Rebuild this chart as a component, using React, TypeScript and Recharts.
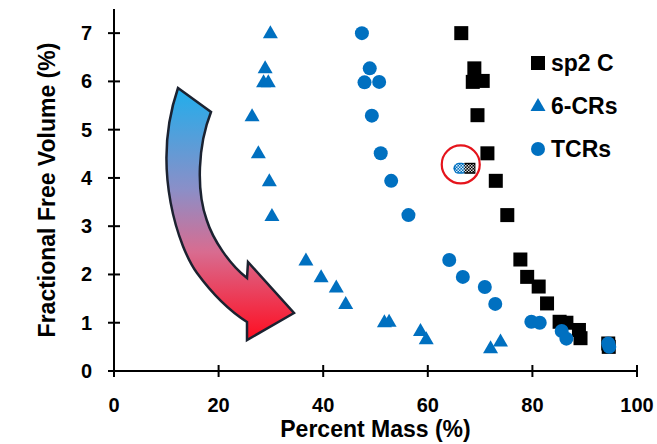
import {
  ScatterChart,
  Scatter,
  XAxis,
  YAxis,
  Legend,
  Label,
  ReferenceDot,
  Customized,
} from "recharts";

// values
const sp2X = [66.4, 68.9, 68.6, 70.5, 69.5, 71.4, 73.0, 75.2, 77.7, 79.0, 81.2, 82.8, 85.2, 86.5, 88.9, 89.2, 94.5, 94.6];
const sp2Y = [7.0, 6.27, 5.99, 6.01, 5.3, 4.51, 3.94, 3.23, 2.31, 1.95, 1.75, 1.4, 1.02, 1.0, 0.85, 0.68, 0.57, 0.5];

const crX = [29.9, 28.9, 28.6, 29.5, 26.4, 27.6, 29.7, 30.2, 36.7, 39.6, 42.5, 44.3, 51.7, 52.6, 58.6, 59.7, 72.0, 73.9];
const crY = [7.0, 6.27, 5.98, 5.98, 5.28, 4.51, 3.93, 3.21, 2.29, 1.94, 1.73, 1.39, 1.01, 1.02, 0.83, 0.66, 0.47, 0.61];

const tcrX = [47.4, 48.9, 47.9, 50.7, 49.3, 51.0, 53.0, 56.3, 64.1, 66.7, 70.9, 72.9, 79.8, 81.4, 85.6, 86.5, 94.5, 94.7];
const tcrY = [7.0, 6.27, 5.98, 5.99, 5.29, 4.51, 3.94, 3.23, 2.3, 1.95, 1.74, 1.39, 1.02, 1.0, 0.83, 0.67, 0.57, 0.5];

const markedX = [67.0];
const markedY = [4.2];
const ringX = 66.3;
const ringY = 4.28;

const xTicks = [0, 20, 40, 60, 80, 100];
const yTicks = [0, 1, 2, 3, 4, 5, 6, 7];
const legendOrder = ["sp2 C", "6-CRs", "TCRs"];

const BLUE = "#0070C0";
const FONT = "'Liberation Sans', Arial, sans-serif";

const toPoints = (xs: number[], ys: number[]) => xs.map((x, i) => ({ x, y: ys[i] }));

const SquareDot = ({ cx, cy }: any) => (
  <rect x={cx - 7} y={cy - 7} width={14} height={14} fill="#000" />
);

const TriangleDot = ({ cx, cy }: any) => (
  <path d={`M${cx},${cy - 8} L${cx + 7.5},${cy + 5} L${cx - 7.5},${cy + 5} Z`} fill={BLUE} />
);

const CircleDot = ({ cx, cy }: any) => <circle cx={cx} cy={cy} r={7} fill={BLUE} />;

// merged circle + square marker with a checker fill
const CheckerDot = ({ cx, cy }: any) => (
  <g>
    <defs>
      <pattern id="checker" width={3} height={3} patternUnits="userSpaceOnUse">
        <rect width={1.5} height={1.5} fill="#fff" />
        <rect x={1.5} y={1.5} width={1.5} height={1.5} fill="#fff" />
      </pattern>
    </defs>
    <rect x={cx - 11} y={cy - 5.5} width={14} height={11} rx={5.5} fill={BLUE} />
    <rect x={cx} y={cy - 5.5} width={11} height={11} fill="#000" />
    <rect x={cx - 9} y={cy - 4} width={19} height={8} fill="url(#checker)" opacity={0.85} />
  </g>
);

const XTick = ({ x, y, payload }: any) => (
  <g>
    <line x1={x} x2={x} y1={y - 6} y2={y + 6} stroke="#000" strokeWidth={2} />
    <text x={x} y={y + 41} textAnchor="middle" fontSize={20} fontWeight="bold" fontFamily={FONT} fill="#000">
      {payload.value}
    </text>
  </g>
);

const YTick = ({ x, y, payload }: any) => (
  <g>
    <line x1={x - 6} x2={x + 6} y1={y} y2={y} stroke="#000" strokeWidth={2} />
    <text x={x - 22} y={y + 7} textAnchor="end" fontSize={20} fontWeight="bold" fontFamily={FONT} fill="#000">
      {payload.value}
    </text>
  </g>
);

const XTitle = ({ viewBox }: any) => (
  <text
    x={viewBox.x + viewBox.width / 2}
    y={viewBox.y + 66}
    textAnchor="middle"
    fontSize={23}
    fontWeight="bold"
    fontFamily={FONT}
    fill="#000"
  >
    Percent Mass (%)
  </text>
);

const YTitle = ({ viewBox }: any) => {
  const tx = viewBox.x + 55;
  const ty = viewBox.y + viewBox.height / 2;
  return (
    <text
      x={tx}
      y={ty}
      transform={`rotate(-90, ${tx}, ${ty})`}
      textAnchor="middle"
      fontSize={23}
      fontWeight="bold"
      fontFamily={FONT}
      fill="#000"
    >
      Fractional Free Volume (%)
    </text>
  );
};

const legendIcons: Record<string, any> = {
  "sp2 C": (cx: number, cy: number) => <rect x={cx - 7} y={cy - 7} width={14} height={14} fill="#000" />,
  "6-CRs": (cx: number, cy: number) => (
    <path d={`M${cx},${cy - 8} L${cx + 7.5},${cy + 5} L${cx - 7.5},${cy + 5} Z`} fill={BLUE} />
  ),
  TCRs: (cx: number, cy: number) => <circle cx={cx} cy={cy} r={7} fill={BLUE} />,
};

const LegendBox = ({ payload }: any) => {
  const names = (payload || []).map((p: any) => p.value);
  const items = legendOrder.filter((n) => names.includes(n));
  return (
    <svg width={130} height={130}>
      {items.map((name: string, i: number) => {
        const cy = 18 + i * 43;
        return (
          <g key={name}>
            {legendIcons[name](13, cy)}
            <text x={26} y={cy + 8} fontSize={23} fontWeight="bold" fontFamily={FONT} fill="#000">
              {name}
            </text>
          </g>
        );
      })}
    </svg>
  );
};

const CurvedArrow = () => (
  <g>
    <defs>
      <linearGradient id="arrowFill" x1="0" y1="0" x2="0" y2="1">
        <stop offset="0%" stopColor="#20AEEC" />
        <stop offset="40%" stopColor="#8A8FC8" />
        <stop offset="65%" stopColor="#D86C90" />
        <stop offset="100%" stopColor="#FF0D20" />
      </linearGradient>
    </defs>
    <path
      d="M178,88 L211,112 C198,145 196,190 206.7,220 C213,240 230,265 247,278 L248,262 L294,313 L247,340 L247,322 C225,308 208,288 197,273 C180,250 150,170 178,88 Z"
      fill="url(#arrowFill)"
      stroke="#1B2230"
      strokeWidth={2.5}
      strokeLinejoin="miter"
    />
  </g>
);

export default function App() {
  return (
    <div style={{ position: "absolute", left: 0, top: 0, background: "#fff" }}>
      <ScatterChart width={657} height={444} margin={{ top: 9, right: 20, left: 0, bottom: 0 }}>
        <Customized component={<CurvedArrow />} />
        <XAxis
          type="number"
          dataKey="x"
          domain={[0, 100]}
          ticks={xTicks}
          interval={0}
          height={73}
          tickSize={0}
          tickMargin={0}
          tickLine={false}
          axisLine={{ stroke: "#000", strokeWidth: 2 }}
          tick={(p: any) => <XTick {...p} />}
        >
          <Label content={(p: any) => <XTitle {...p} />} />
        </XAxis>
        <YAxis
          type="number"
          dataKey="y"
          domain={[0, 7.5]}
          ticks={yTicks}
          interval={0}
          width={114}
          tickSize={0}
          tickMargin={0}
          tickLine={false}
          axisLine={{ stroke: "#000", strokeWidth: 2 }}
          tick={(p: any) => <YTick {...p} />}
        >
          <Label content={(p: any) => <YTitle {...p} />} />
        </YAxis>
        <Scatter name="sp2 C" data={toPoints(sp2X, sp2Y)} fill="#000" shape={SquareDot} isAnimationActive={false} />
        <Scatter name="6-CRs" data={toPoints(crX, crY)} fill={BLUE} shape={TriangleDot} isAnimationActive={false} />
        <Scatter name="TCRs" data={toPoints(tcrX, tcrY)} fill={BLUE} shape={CircleDot} isAnimationActive={false} />
        <Scatter
          name="marked"
          data={toPoints(markedX, markedY)}
          shape={CheckerDot}
          legendType="none"
          isAnimationActive={false}
        />
        <ReferenceDot x={ringX} y={ringY} r={19} fill="none" stroke="#E5141C" strokeWidth={2.2} />
        <Legend
          layout="vertical"
          align="center"
          verticalAlign="middle"
          content={(p: any) => <LegendBox {...p} />}
          wrapperStyle={{ left: 525, top: 45, width: 130, height: 130 }}
        />
      </ScatterChart>
    </div>
  );
}
